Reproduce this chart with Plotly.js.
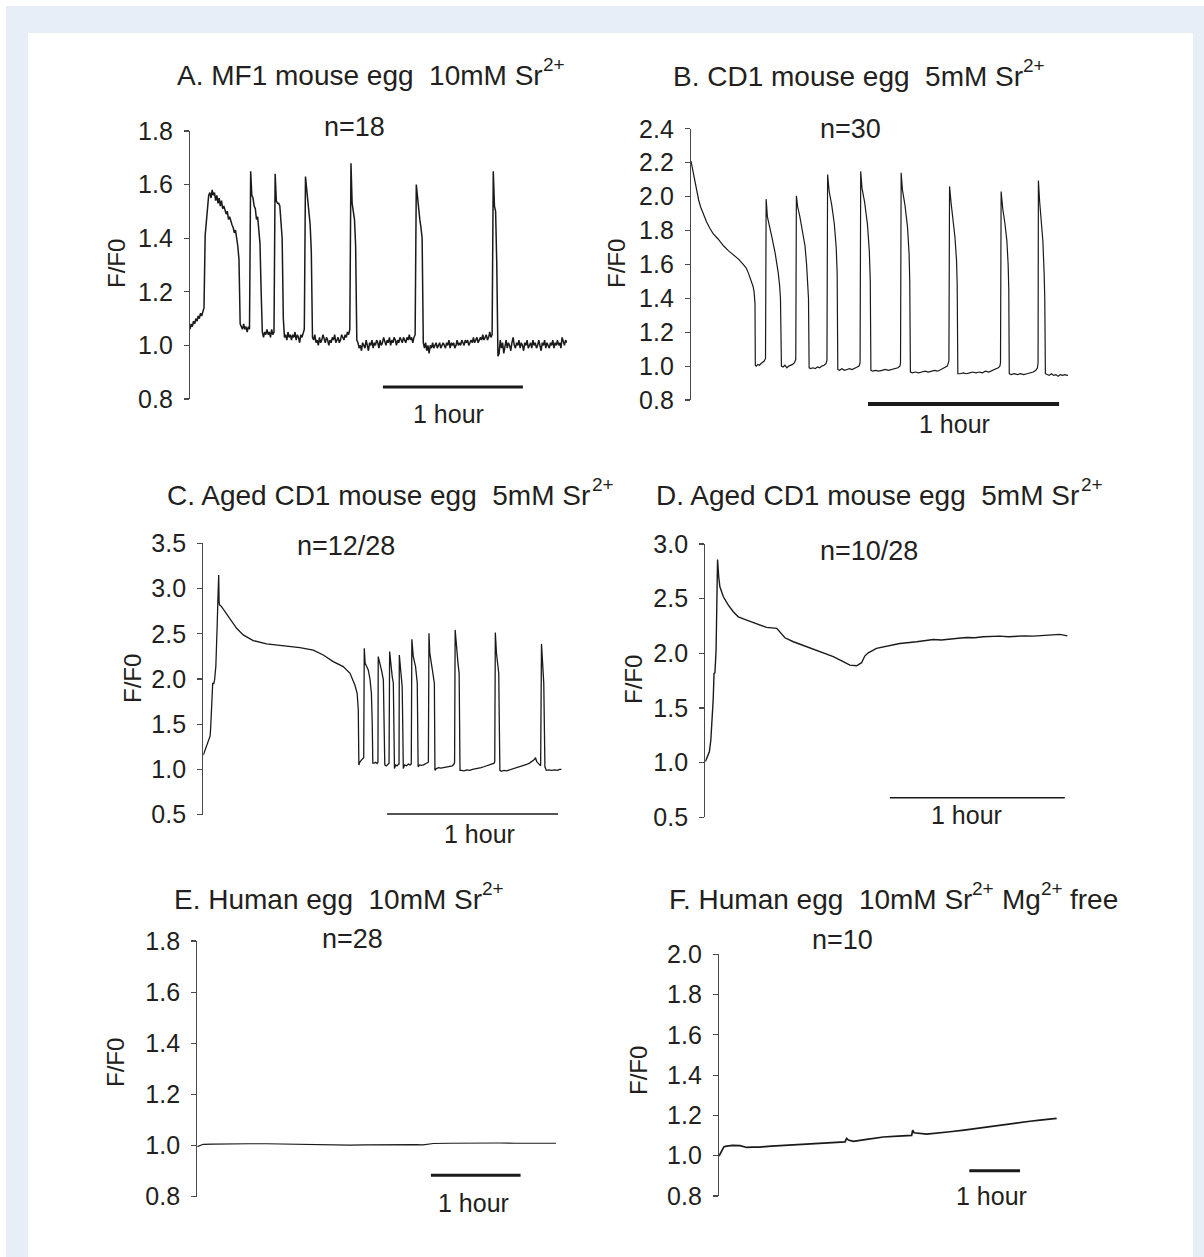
<!DOCTYPE html>
<html><head><meta charset="utf-8">
<script src="https://cdn.plot.ly/plotly-3.0.1.min.js"></script>
<style>html,body{margin:0;padding:0;background:#fff}#chart{width:1204px;height:1257px}</style>
</head><body><div id="chart"></div>
<script>
// ---------------- DATA (time in minutes, F/F0) ----------------
// Panel A: sampled every 0.5 min starting at 0
const yA = [
1.06,1.08,1.07,1.09,1.08,1.10,1.09,1.11,1.10,1.12,1.11,1.13,1.14,
1.41,1.47,1.53,1.56,1.57,1.55,1.58,1.56,1.57,1.54,1.56,1.53,1.55,1.52,1.54,1.51,1.52,1.50,1.49,1.50,1.47,1.48,1.46,1.45,1.44,1.42,1.43,1.40,1.37,1.32,1.08,
1.07,1.06,1.08,1.06,1.07,1.05,1.07,1.06,
1.65,1.56,1.55,1.52,1.51,1.47,1.48,1.41,1.38,1.20,1.05,
1.03,1.05,1.04,1.06,1.04,1.05,1.03,1.06,1.04,1.05,
1.64,1.54,1.53,1.53,1.52,1.47,1.40,1.10,1.03,
1.04,1.02,1.05,1.03,1.04,1.02,1.04,1.03,1.05,1.02,1.04,1.03,1.01,1.04,1.03,1.05,1.06,
1.63,1.58,1.54,1.50,1.45,1.35,1.03,
1.02,1.04,1.01,1.02,1.00,1.03,1.01,1.02,1.04,1.02,1.01,1.03,1.02,1.00,1.02,1.01,1.03,1.02,1.04,1.01,1.02,1.03,1.01,1.02,1.04,1.03,1.02,1.04,1.03,1.05,1.04,1.06,
1.68,1.53,1.50,1.47,1.37,1.02,
1.01,0.99,1.00,0.98,1.01,1.00,0.99,1.02,1.00,0.98,
1.01,1.00,1.02,0.99,1.01,1.00,1.02,1.01,0.99,1.02,
1.00,1.01,1.03,1.01,1.00,1.02,1.01,1.03,1.00,1.02,
1.01,1.03,1.02,1.00,1.02,1.01,1.03,1.02,1.01,1.03,
1.02,1.01,1.03,1.02,1.04,1.02,1.03,1.01,1.03,1.04,
1.60,1.55,1.51,1.47,1.44,1.40,1.01,
0.99,1.01,0.98,1.00,0.97,1.00,0.99,1.01,0.99,1.00,
1.01,0.99,1.00,1.01,0.99,1.00,1.01,1.00,0.99,1.01,
1.00,1.02,0.99,1.01,1.00,1.01,0.99,1.00,1.02,1.00,
1.01,1.00,1.02,1.01,1.00,1.02,1.01,1.02,1.00,1.01,
1.02,1.01,1.03,1.01,1.02,1.03,1.01,1.02,1.03,1.02,
1.04,1.02,1.03,1.04,1.02,1.03,1.05,1.03,1.04,
1.65,1.52,1.50,1.30,0.96,
0.97,1.02,0.99,1.01,0.97,1.00,1.02,0.99,1.01,1.00,
0.98,1.01,1.03,1.00,0.99,1.01,1.00,1.02,0.99,1.01,
1.00,0.98,1.01,1.00,1.02,0.99,1.00,1.01,0.99,1.02,
1.00,1.01,0.99,1.00,1.02,1.00,0.98,1.01,1.00,1.02,
0.99,1.01,1.00,0.99,1.01,1.00,1.02,0.99,1.01,1.00,
1.02,1.00,1.01,0.99,1.03,1.01,1.00,1.02,1.01];
const stepA = 0.5;

// Panel B
const tB = [0,0.4,0.8,1.3,1.8,2.4,3.0,3.8,4.9,6.0,7.0,8.5,10.2,11.8,13.3,15.0,16.4,17.3,18.0,18.6,19.1,19.5,19.8,20.0,20.1,20.2,
20.5,21.0,21.5,22.0,22.5,23.0,23.4,
23.6,24.0,24.5,25.3,26.4,27.0,27.4,27.8,28.1,28.4,
28.9,29.5,30.1,30.7,31.3,31.9,32.5,32.9,
33.1,33.5,34.2,35.0,35.8,36.3,36.7,36.9,37.1,
37.6,38.3,39.0,39.7,40.4,41.1,41.8,42.4,42.7,
42.9,43.4,44.2,45.0,45.6,45.9,46.1,
46.6,47.4,48.2,49.0,49.8,50.6,51.4,52.2,52.8,53.1,
53.3,53.7,54.5,55.4,56.0,56.3,56.5,
57.0,58.0,59.0,60.0,61.0,62.0,63.0,64.0,65.0,65.6,65.8,
66.0,66.4,67.2,68.0,68.5,68.7,68.9,
69.5,70.5,71.5,72.5,73.5,74.5,75.5,76.5,77.5,78.5,79.5,80.5,81.0,
81.2,81.7,82.4,82.9,83.4,83.6,83.8,
84.5,85.5,86.5,87.5,88.5,89.5,90.5,91.5,92.5,93.5,94.5,95.5,96.5,97.0,97.2,
97.4,97.9,98.6,99.2,99.6,99.8,99.95,
100.5,101.5,102.5,103.5,104.5,105.5,106.5,107.5,108.3,108.8,109.0,
109.1,109.5,110.0,110.5,110.9,111.1,111.3,
111.8,112.5,113.2,113.9,114.6,115.3,116.0,116.7,117.4,118.1,118.5];
const yB = [2.21,2.17,2.12,2.07,2.03,1.98,1.94,1.90,1.85,1.81,1.78,1.75,1.71,1.68,1.655,1.63,1.60,1.58,1.55,1.52,1.50,1.47,1.44,1.41,1.37,1.005,
1.0,1.01,1.005,1.015,1.02,1.03,1.045,
1.985,1.88,1.83,1.77,1.67,1.61,1.55,1.48,1.40,1.0,
0.995,1.005,0.99,1.0,1.005,1.01,1.02,1.04,
2.005,1.94,1.88,1.80,1.71,1.60,1.50,1.40,0.99,
0.985,0.99,0.985,0.995,0.99,1.0,1.005,1.015,1.035,
2.13,2.03,1.95,1.84,1.70,1.55,0.98,
0.975,0.985,0.975,0.98,0.985,0.98,0.99,0.995,1.0,1.02,
2.15,2.05,1.97,1.84,1.68,1.50,0.975,
0.97,0.975,0.97,0.975,0.98,0.975,0.98,0.985,0.99,1.0,1.02,
2.14,2.04,1.95,1.82,1.66,1.50,0.965,
0.96,0.965,0.96,0.965,0.97,0.965,0.97,0.975,0.97,0.98,0.99,1.0,1.03,
2.06,1.96,1.86,1.76,1.62,1.48,0.955,
0.955,0.96,0.955,0.96,0.965,0.96,0.965,0.96,0.97,0.965,0.975,0.98,0.99,1.0,1.02,
2.03,1.93,1.84,1.74,1.60,1.45,0.955,
0.95,0.955,0.95,0.955,0.95,0.955,0.96,0.965,0.975,0.99,1.02,
2.095,1.97,1.86,1.74,1.55,1.40,0.955,
0.95,0.945,0.955,0.945,0.95,0.94,0.95,0.945,0.95,0.945,0.947];

// Panel C
const tC = [0,0.6,1.2,1.7,2.1,2.4,2.6,2.8,3.0,3.2,3.3,3.7,4.0,4.4,4.7,4.9,5.15,5.4,5.55,5.7,
6.4,7.6,9.4,11.7,14.0,17.5,22.2,28.1,33.9,38.6,42.1,45.6,49.1,51.5,53.2,54.0,54.4,54.6,
54.9,55.4,56.0,56.3,
56.5,56.8,57.3,57.9,58.5,59.0,59.3,59.5,
60.0,60.5,61.0,61.3,
61.4,62.0,62.6,63.2,63.5,63.7,
64.2,64.7,65.2,
65.4,65.9,66.3,66.7,66.9,67.1,
67.5,68.0,68.5,68.7,
68.8,69.4,69.8,70.0,70.2,
70.6,71.3,72.0,72.6,73.0,
73.2,73.7,74.5,75.1,75.3,75.4,
75.9,76.6,77.3,78.0,78.6,79.0,
79.2,79.5,80.4,81.1,81.2,81.3,
81.8,82.6,83.4,84.2,85.0,85.8,86.6,87.4,88.0,88.2,
88.4,88.9,89.4,89.8,90.0,90.1,
90.6,91.5,92.5,93.5,94.5,95.5,96.5,97.5,98.5,99.5,100.5,101.5,102.1,102.3,
102.5,102.9,103.3,103.7,103.9,104.1,
104.6,105.5,106.5,107.5,108.5,109.5,110.5,111.5,112.5,113.5,114.5,115.5,116.2,116.6,117.0,117.5,118.0,118.4,
118.7,119.1,119.5,119.7,119.9,
120.4,121.3,122.3,123.3,124.3,125.0,125.7];
const yC = [1.16,1.21,1.25,1.29,1.33,1.37,1.47,1.62,1.80,1.93,1.95,1.95,2.0,2.14,2.35,2.62,2.90,3.15,2.85,2.82,
2.80,2.745,2.653,2.561,2.487,2.425,2.388,2.366,2.347,2.32,2.266,2.192,2.137,2.063,1.934,1.842,1.658,1.05,
1.08,1.10,1.12,1.13,
2.34,2.174,2.14,2.10,2.0,1.842,1.5,1.07,
1.07,1.08,1.065,1.08,
2.248,2.174,2.09,1.99,1.6,1.05,
1.04,1.06,1.07,
2.303,2.10,2.03,1.953,1.5,1.01,
1.05,1.04,1.06,1.06,
2.266,2.063,1.916,1.5,1.01,
1.05,1.04,1.06,1.05,1.06,
2.44,2.248,2.137,1.953,1.5,1.03,
1.05,1.045,1.05,1.06,1.07,1.08,
2.506,2.285,2.10,1.953,1.5,0.99,
1.01,1.02,1.015,1.02,1.02,1.025,1.03,1.04,1.06,1.08,
2.543,2.30,2.17,2.063,1.5,0.99,
0.99,0.985,0.995,0.99,1.0,1.005,1.01,1.02,1.03,1.04,1.05,1.06,1.07,1.09,
2.513,2.285,2.17,2.063,1.5,0.99,
0.98,0.99,0.985,0.995,1.0,1.01,1.02,1.03,1.045,1.055,1.07,1.09,1.11,1.13,1.09,1.07,1.05,1.04,
2.388,2.211,1.953,1.5,1.03,
0.99,0.995,0.99,0.995,0.99,1.0,1.0];

// Panel D
const tD = [0,0.7,1.4,1.9,2.4,2.7,3.0,3.3,3.7,4.0,4.2,4.6,5.0,6.2,7.9,9.6,11.3,14.2,17.6,21.0,24.5,25.6,27.3,30.2,34.7,39.3,43.9,47.3,49.6,51.9,53.6,54.7,55.9,58.7,62.2,66.7,72.5,78.2,81.0,83.9,86.8,89.6,92.4,95.3,98.1,101.0,103.9,106.7,109.6,112.5,115.3,118.2,121.6,124.2];
const yD = [1.009,1.055,1.10,1.207,1.39,1.573,1.816,1.822,2.03,2.578,2.858,2.70,2.608,2.517,2.441,2.38,2.334,2.304,2.273,2.237,2.228,2.197,2.142,2.106,2.06,2.014,1.969,1.923,1.892,1.886,1.914,1.975,2.005,2.045,2.066,2.09,2.106,2.127,2.122,2.133,2.138,2.145,2.142,2.151,2.155,2.157,2.152,2.157,2.160,2.157,2.162,2.167,2.173,2.16];

// Panel E
const tE = [0,2,4,10,24,35,46,57,69,80,91,102,113,124,136,146,151,158,169,180,191,202,213,225,233,240];
const yE = [0.996,1.002,1.005,1.006,1.008,1.007,1.007,1.006,1.005,1.004,1.001,1.002,1.003,1.004,1.005,1.004,1.003,1.008,1.009,1.010,1.009,1.010,1.009,1.009,1.008,1.009];

// Panel F
const tF = [0,3.2,5.9,9.1,16,24.9,32.7,40,48.5,62,76.1,90,103.7,120,135.3,143,149.1,150.3,151.1,153.1,159,174.8,194.5,212,228,229.2,230.8,245.8,260,273.4,290,304.9,318,332.5,345,356.2,368,379.9,390,399.6];
const yF = [0.998,1.02,1.045,1.048,1.051,1.05,1.041,1.043,1.043,1.048,1.051,1.053,1.056,1.060,1.064,1.066,1.069,1.08,1.086,1.078,1.071,1.081,1.093,1.097,1.101,1.127,1.114,1.107,1.112,1.119,1.127,1.136,1.144,1.152,1.158,1.165,1.171,1.177,1.181,1.185];

// Text: each title is a list of [text, isSuperscript]
const titleParts = [
  [['A. MF1 mouse egg\u00a0 10mM Sr',0],['2+',1]],
  [['B. CD1 mouse egg\u00a0 5mM Sr',0],['2+',1]],
  [['C. Aged CD1 mouse egg\u00a0 5mM Sr',0],['2+',1]],
  [['D. Aged CD1 mouse egg\u00a0 5mM Sr',0],['2+',1]],
  [['E. Human egg\u00a0 10mM Sr',0],['2+',1]],
  [['F. Human egg\u00a0 10mM Sr',0],['2+',1],[' Mg',0],['2+',1],[' free',0]]
];
const nLabels = ['n=18','n=30','n=12/28','n=10/28','n=28','n=10'];
const yLabel = 'F/F0';
const barLabel = '1 hour';
const barMinutes = 60;

// ---------------- LAYOUT ----------------
const W = 1204, H = 1257;
const FONT = '"Liberation Sans", Arial, Helvetica, sans-serif';
const TXT = '#231f20';
const AX = '#4a4a4a';
const TITLE_SIZE = 28, SUP_SIZE = 19, SUP_RISE = 11;
const px = p => p / W;
const py = p => 1 - p / H;

const ctx = document.createElement('canvas').getContext('2d');
function textWidth(s, size) {
  ctx.font = size + 'px "Liberation Sans", Arial, sans-serif';
  return ctx.measureText(s).width;
}

const panels = [
  {xPx:[190,567],   yPx:[131,399],    xr:[0,161.6], yr:[0.8,1.8], dt:0.2, title:[175,75.5], n:[354,127], yl:[116,264], bar:[82.7,387,3],  bl:[448,414], lw:1.5},
  {xPx:[691,1068],  yPx:[128.8,400],  xr:[0,118.4], yr:[0.8,2.4], dt:0.2, title:[671,76.5], n:[850,129], yl:[616,264], bar:[55.6,404,4],  bl:[955,424], lw:1.2},
  {xPx:[203.3,562], yPx:[543.3,814.7],xr:[0,125.9], yr:[0.5,3.5], dt:0.5, title:[165,495],  n:[346,545.5], yl:[132,679], bar:[64.5,814,1.5], bl:[479,834], lw:1.3},
  {xPx:[705.3,1068],yPx:[544,817.3],  xr:[0,124.4], yr:[0.5,3.0], dt:0.5, title:[654,495],  n:[869,551.5], yl:[633,680], bar:[63.3,797.7,1.5], bl:[966,815], lw:1.4},
  {xPx:[197.3,556], yPx:[941,1196.7], xr:[0,240],   yr:[0.8,1.8], dt:0.2, title:[172,899],  n:[352,939], yl:[115,1063], bar:[156.3,1175.3,3], bl:[473,1203], lw:1.2},
  {xPx:[719,1057],  yPx:[954.3,1196], xr:[0,400],   yr:[0.8,2.0], dt:0.2, title:[667,899],  n:[842,940], yl:[638,1071], bar:[296.2,1170.7,3], bl:[991,1196], lw:1.7}
];

const series = [
  {y: yA, x0: 0, dx: stepA},
  {x: tB, y: yB},
  {x: tC, y: yC},
  {x: tD, y: yD},
  {x: tE, y: yE},
  {x: tF, y: yF}
];

const data = [];
const layout = {
  width: W, height: H,
  margin: {l:0, r:0, t:0, b:0},
  paper_bgcolor: '#ffffff',
  plot_bgcolor: 'rgba(0,0,0,0)',
  showlegend: false,
  font: {family: FONT, color: TXT},
  shapes: [
    {type:'rect', xref:'paper', yref:'paper', x0:px(6), x1:1, y0:0, y1:py(6), fillcolor:'rgb(231,238,248)', line:{width:0}, layer:'below'},
    {type:'rect', xref:'paper', yref:'paper', x0:px(28), x1:px(1193), y0:0, y1:py(33), fillcolor:'#ffffff', line:{width:0}, layer:'below'}
  ],
  annotations: []
};

panels.forEach((p, i) => {
  const k = i === 0 ? '' : String(i + 1);
  const s = series[i];
  const tr = {type:'scatter', mode:'lines', xaxis:'x'+k, yaxis:'y'+k, y:s.y,
              line:{color:'#1a1a1a', width:p.lw}, hoverinfo:'skip'};
  if (s.x) tr.x = s.x; else { tr.x0 = s.x0; tr.dx = s.dx; }
  data.push(tr);

  layout['xaxis'+k] = {domain:[px(p.xPx[0]), px(p.xPx[1])], range:p.xr, anchor:'y'+k,
                       visible:false, fixedrange:true};
  layout['yaxis'+k] = {domain:[py(p.yPx[1]), py(p.yPx[0])], range:p.yr, anchor:'x'+k,
                       showline:true, linecolor:AX, linewidth:1.2, mirror:false,
                       ticks:'outside', ticklen:5, tickwidth:1.2, tickcolor:AX,
                       ticklabelstandoff:6,
                       tick0:p.yr[0], dtick:p.dt, tickformat:'.1f',
                       tickfont:{family:FONT, size:25, color:TXT},
                       showgrid:false, zeroline:false, fixedrange:true};

  layout.shapes.push({type:'line', xref:'x'+k, yref:'paper',
                      x0:p.bar[0], x1:p.bar[0]+barMinutes, y0:py(p.bar[1]), y1:py(p.bar[1]),
                      line:{color:'#1a1a1a', width:p.bar[2]}, layer:'above'});

  // title built from pieces (main text + raised superscripts)
  let cursor = p.title[0];
  titleParts[i].forEach(([txt, sup]) => {
    const size = sup ? SUP_SIZE : TITLE_SIZE;
    const lead = txt.length - txt.replace(/^ +/, '').length;
    const body = txt.replace(/^ +/, '');
    const leadW = lead ? textWidth(' '.repeat(lead), size) : 0;
    layout.annotations.push({xref:'paper', yref:'paper',
      x: px(cursor + leadW), y: py(p.title[1] - (sup ? SUP_RISE : 0)),
      xanchor:'left', yanchor:'middle', text: body, showarrow:false,
      font:{family:FONT, size:size, color:TXT}});
    cursor += leadW + textWidth(body, size);
  });

  layout.annotations.push(
    {xref:'paper', yref:'paper', x:px(p.n[0]), y:py(p.n[1]), xanchor:'center', yanchor:'middle',
     text:nLabels[i], showarrow:false, font:{family:FONT, size:27, color:TXT}},
    {xref:'paper', yref:'paper', x:px(p.yl[0]), y:py(p.yl[1]), xanchor:'center', yanchor:'middle',
     text:yLabel, textangle:-90, showarrow:false, font:{family:FONT, size:24, color:TXT}},
    {xref:'paper', yref:'paper', x:px(p.bl[0]), y:py(p.bl[1]), xanchor:'center', yanchor:'middle',
     text:barLabel, showarrow:false, font:{family:FONT, size:25, color:TXT}}
  );
});

Plotly.newPlot('chart', data, layout, {staticPlot:true, displayModeBar:false});
</script>
</body></html>
